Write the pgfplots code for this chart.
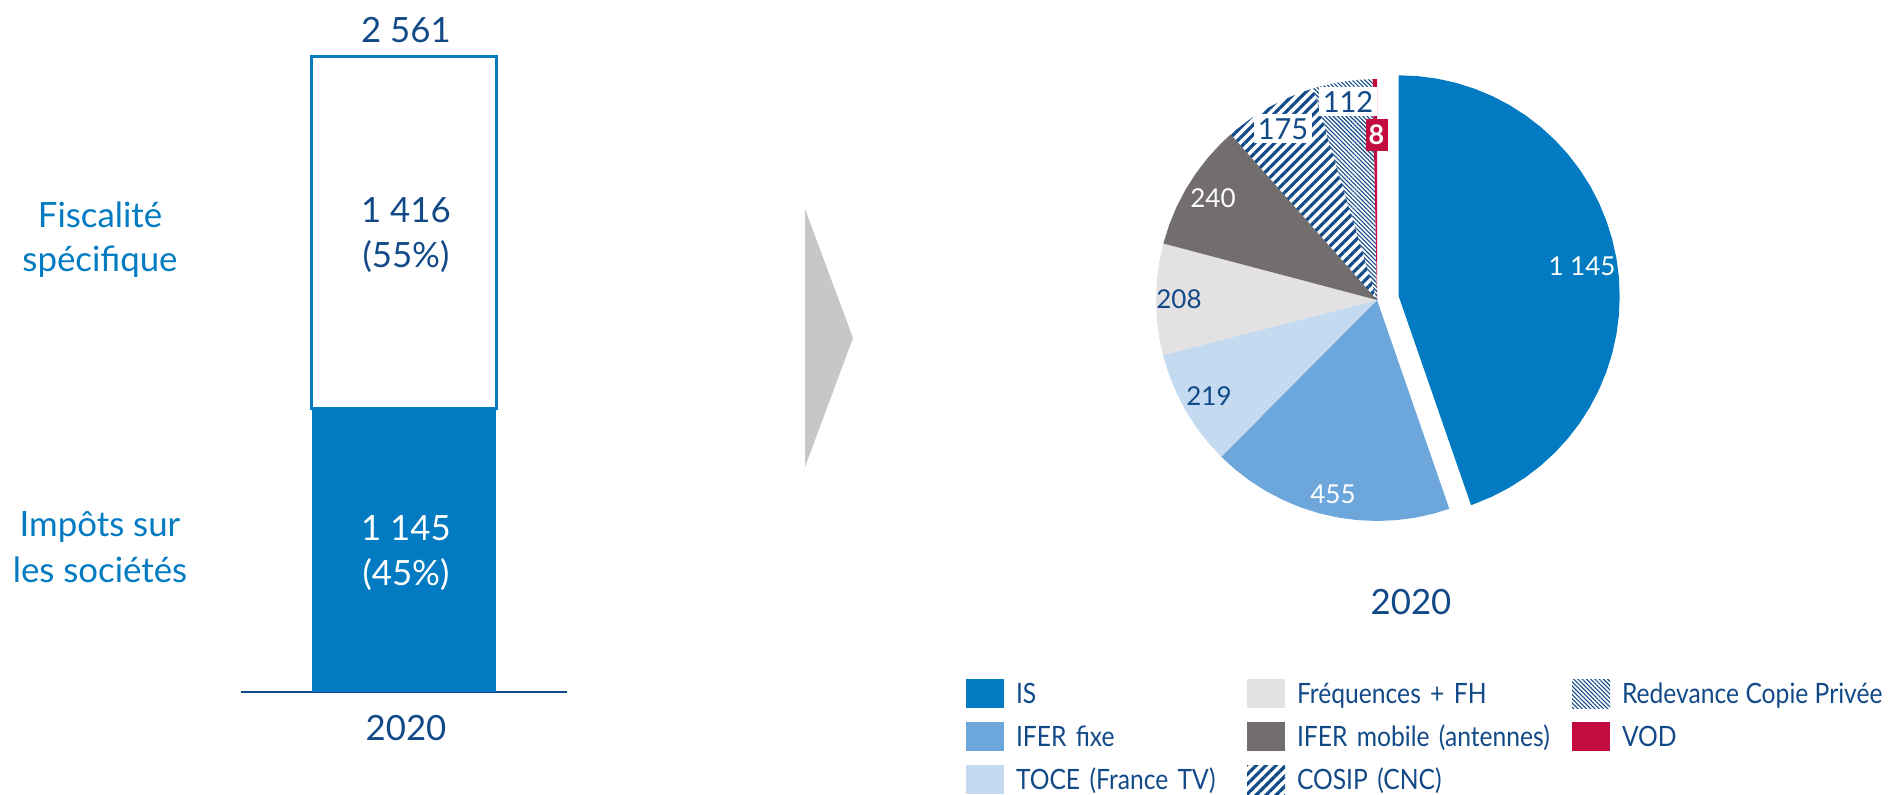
\documentclass[border=0pt]{standalone}
\usepackage{fontspec}
\setmainfont{Lato}
\newfontfamily\legfont{Lato}[FakeStretch=0.88]
\usepackage{pgfplots}
\pgfplotsset{compat=1.18}
\usetikzlibrary{patterns.meta}
\definecolor{isblue}{HTML}{027BC2}
\definecolor{iferfixe}{HTML}{6CA6DB}
\definecolor{toce}{HTML}{C3DAF0}
\definecolor{freq}{HTML}{E3E1E2}
\definecolor{mobile}{HTML}{726E6D}
\definecolor{vod}{HTML}{C20C3F}
\definecolor{navy}{HTML}{124A88}
\definecolor{arrowgrey}{HTML}{C8C6C7}
\tikzset{
  cosip/.style={pattern={Lines[angle=45,distance=3.5pt,line width=1.6pt]}, pattern color=navy},
  copie/.style={pattern={Lines[angle=-45,distance=1.5pt,line width=0.55pt]}, pattern color=navy},
}
\begin{document}
\begin{tikzpicture}
\path[use as bounding box] (0,0) rectangle (945.5pt,397pt);

% ---------------- stacked bar ----------------
\begin{axis}[
  at={(120.5pt,51pt)}, anchor=south west,
  scale only axis, width=163pt, height=317.5pt,
  xmin=-1, xmax=1, ymin=0, ymax=2561,
  axis x line=bottom, axis y line=none,
  x axis line style={-, draw=navy, line width=0.8pt},
  xtick=\empty, ytick=\empty,
  ybar stacked, bar width=92pt,
  clip=false,
]
\addplot[fill=isblue, draw=none] coordinates {(0,1145)};
\addplot[fill=white, draw=isblue, line width=1.5pt] coordinates {(0,1416)};
\end{axis}

\begin{scope}[every node/.style={font=\fontsize{17.4}{22}\selectfont, anchor=base}]
\node[text=navy] at (203pt,375.5pt) {2 561};
\node[text=navy] at (203pt,285.5pt) {1 416};
\node[text=navy] at (203pt,263pt) {(55\%)};
\node[text=white] at (203pt,127pt) {1 145};
\node[text=white] at (203pt,104.5pt) {(45\%)};
\node[text=navy] at (203pt,27pt) {2020};
\node[text=isblue] at (50pt,283pt) {Fiscalité};
\node[text=isblue] at (50pt,261pt) {spécifique};
\node[text=isblue] at (50pt,129pt) {Impôts sur};
\node[text=isblue] at (50pt,106pt) {les sociétés};
\end{scope}

% ---------------- arrow ----------------
\fill[arrowgrey] (402.5pt,292.5pt) -- (426.5pt,228pt) -- (402.5pt,163.5pt) -- cycle;

% ---------------- pie ----------------
% values: IS 1145, IFER fixe 455, TOCE 219, Frequences 208, IFER mobile 240,
% COSIP 175, Copie privee 112, VOD 8 (total 2562) -> angles clockwise from 90 deg
\begin{axis}[
  at={(565pt,122pt)}, anchor=south west,
  scale only axis, width=260pt, height=250pt,
  xmin=-247, xmax=273, ymin=-250, ymax=250,
  hide axis, clip=false,
  legend image code/.code={\path[#1] (0pt,-7.25pt) rectangle (19pt,7.25pt);},
  legend columns=3, legend cell align=left,
  legend style={at={(axis cs:-411,-379)}, anchor=north west, draw=none, fill=none,
    inner sep=0pt, outer sep=0pt, row sep=7pt, column sep=6pt,
    font=\legfont\fontsize{14}{16}\selectfont, text=navy,
    /tikz/every even column/.append style={column sep=0pt},
    nodes={inner sep=0pt, text height=12pt, text depth=2pt}},
]
% IS (exploded)
\addplot[forget plot, fill=isblue, draw=none, data cs=polar, xshift=10.85pt, yshift=1.85pt] coordinates {
(0,0) (90,221) (85,221) (80,221) (75,221) (70,221) (65,221) (60,221) (55,221) (50,221)
(45,221) (40,221) (35,221) (30,221) (25,221) (20,221) (15,221) (10,221) (5,221) (0,221)
(-5,221) (-10,221) (-15,221) (-20,221) (-25,221) (-30,221) (-35,221) (-40,221) (-45,221)
(-50,221) (-55,221) (-60,221) (-65,221) (-70,221) (-70.89,221) (0,0)};
% IFER fixe
\addplot[forget plot, fill=iferfixe, draw=none, data cs=polar] coordinates {
(0,0) (-70.89,221) (-75,221) (-80,221) (-85,221) (-90,221) (-95,221) (-100,221) (-105,221)
(-110,221) (-115,221) (-120,221) (-125,221) (-130,221) (-134.82,221) (0,0)};
% TOCE
\addplot[forget plot, fill=toce, draw=none, data cs=polar] coordinates {
(0,0) (-134.82,221) (-135,221) (-140,221) (-145,221) (-150,221) (-155,221) (-160,221)
(-165,221) (-165.59,221) (0,0)};
% Frequences + FH
\addplot[forget plot, fill=freq, draw=none, data cs=polar] coordinates {
(0,0) (-165.59,221) (-170,221) (-175,221) (-180,221) (-185,221) (-190,221) (-194.82,221) (0,0)};
% IFER mobile
\addplot[forget plot, fill=mobile, draw=none, data cs=polar] coordinates {
(0,0) (-194.82,221) (-195,221) (-200,221) (-205,221) (-210,221) (-215,221) (-220,221)
(-225,221) (-228.54,221) (0,0)};
% COSIP
\addplot[forget plot, cosip, draw=none, data cs=polar] coordinates {
(0,0) (-228.54,221) (-230,221) (-235,221) (-240,221) (-245,221) (-250,221) (-253.13,221) (0,0)};
% Redevance Copie Privee
\addplot[forget plot, copie, draw=none, data cs=polar] coordinates {
(0,0) (-253.13,221) (-255,221) (-260,221) (-265,221) (-268.87,221) (0,0)};
% VOD
\addplot[forget plot, fill=vod, draw=none, data cs=polar] coordinates {
(0,0) (-268.87,221) (-270,221) (0,0)};

% labels
\begin{scope}[every node/.style={font=\fontsize{13}{14}\selectfont, anchor=base}]
\node[text=white] at (axis cs:205,25) {1 145};
\node[text=white] at (axis cs:-44,-203) {455};
\node[text=navy] at (axis cs:-168,-105) {219};
\node[text=navy] at (axis cs:-198,-8) {208};
\node[text=white] at (axis cs:-164,93) {240};
\end{scope}
\begin{scope}[every node/.style={font=\fontsize{14.5}{16}\selectfont, anchor=base}]
\node[text=navy, fill=white, inner sep=2pt] at (axis cs:-94,161) {175};
\node[text=navy, fill=white, inner sep=2pt] at (axis cs:-29,188) {112};
\end{scope}
\node[font=\bfseries\fontsize{13.5}{14}\selectfont, text=white, fill=vod, inner sep=0pt,
  minimum width=11pt, minimum height=16pt] at (axis cs:-0.5,165) {8};
\node[font=\fontsize{17.4}{22}\selectfont, text=navy, anchor=base] at (axis cs:34,-314) {2020};

% legend (row-major order)
\addlegendimage{fill=isblue, draw=none}
\addlegendentry[text width=115.5pt, align=left]{IS}
\addlegendimage{fill=freq, draw=none}
\addlegendentry[text width=137.5pt, align=left]{Fréquences + FH}
\addlegendimage{copie, draw=none}
\addlegendentry[align=left]{Redevance Copie Privée}
\addlegendimage{fill=iferfixe, draw=none}
\addlegendentry[text width=115.5pt, align=left]{IFER fixe}
\addlegendimage{fill=mobile, draw=none}
\addlegendentry[text width=137.5pt, align=left]{IFER mobile (antennes)}
\addlegendimage{fill=vod, draw=none}
\addlegendentry[align=left]{VOD}
\addlegendimage{fill=toce, draw=none}
\addlegendentry[text width=115.5pt, align=left]{TOCE (France TV)}
\addlegendimage{cosip, draw=none}
\addlegendentry[text width=137.5pt, align=left]{COSIP (CNC)}
\end{axis}
\end{tikzpicture}
\end{document}
